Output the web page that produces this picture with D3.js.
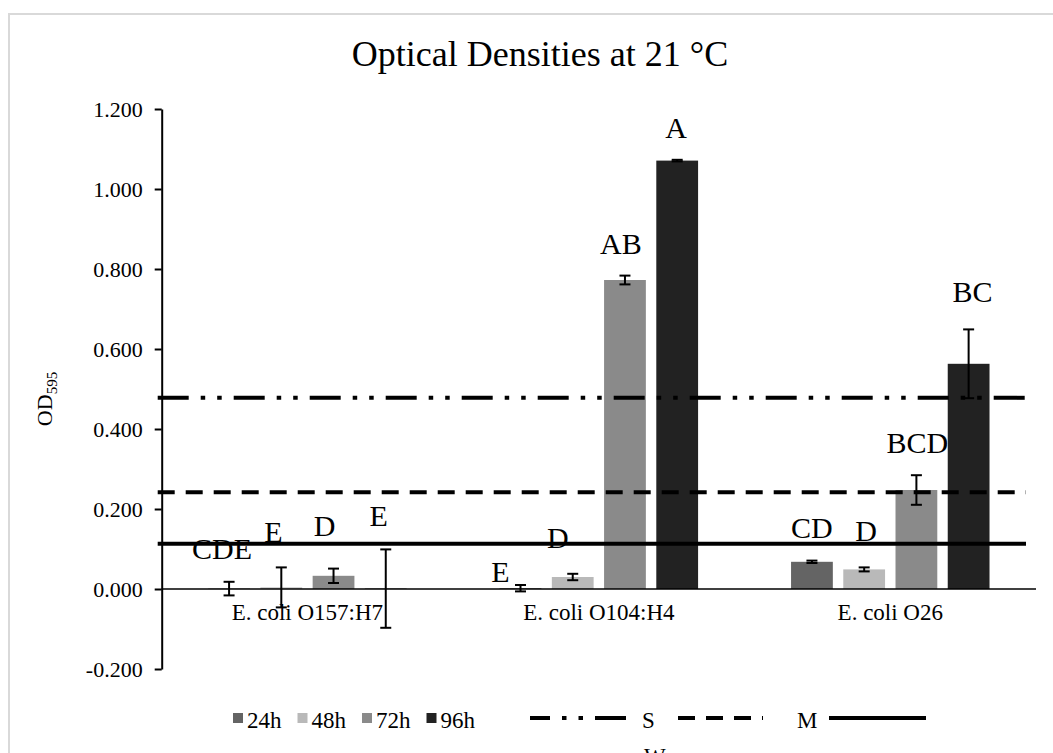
<!DOCTYPE html>
<html>
<head>
<meta charset="utf-8">
<script src="https://cdn.jsdelivr.net/npm/d3@7"></script>
<style>
  html, body { margin: 0; padding: 0; background: #fff; }
  svg { display: block; }
  text { font-family: "Liberation Serif", "Times New Roman", serif; fill: #000; }
</style>
</head>
<body>
<svg id="chart" width="1053" height="753" font-family="Liberation Serif, Times New Roman, serif"></svg>
<script>
// ---- data ----
const categories = ["E. coli O157:H7", "E. coli O104:H4", "E. coli O26"];
const seriesNames = ["24h", "48h", "72h", "96h"];
const seriesColors = ["#646464", "#b9b9b9", "#8a8a8a", "#222222"];

// OD595 means, one row per strain, one column per incubation time
const od24h = [0.001, 0.002, 0.068];
const od48h = [0.004, 0.030, 0.049];
const od72h = [0.033, 0.7725, 0.2475];
const od96h = [0.001, 1.071, 0.563];

// standard deviations
const sd24h = [0.017, 0.008, 0.003];
const sd48h = [0.050, 0.008, 0.005];
const sd72h = [0.018, 0.011, 0.037];
const sd96h = [0.098, 0.002, 0.086];

// significance letters
const let24h = ["CDE", "E", "CD"];
const let48h = ["E", "D", "D"];
const let72h = ["D", "AB", "BCD"];
const let96h = ["E", "A", "BC"];

// biofilm classification cut-offs
const cutoffNames = ["S", "M", "W"];
const cutoffValues = [0.478, 0.242, 0.113];

const yTicks = [-0.2, 0, 0.2, 0.4, 0.6, 0.8, 1.0, 1.2];

// hand placement of the letters, relative to the top of each error bar
const letterNudge24h = [[-7, 0], [-20, 20], [0, 0]];
const letterNudge48h = [[-8, -2], [-15, -3], [2, -3]];
const letterNudge72h = [[-9, -10], [-4, 1], [1, 1]];
const letterNudge96h = [[-7, 0], [-1, 1], [4, -4]];

// ---- layout ----
const svg = d3.select("#chart");
const plot = { left: 161.7, right: 1036, top: 109, bottom: 669 };

const means = [od24h, od48h, od72h, od96h];
const sds = [sd24h, sd48h, sd72h, sd96h];
const letters = [let24h, let48h, let72h, let96h];
const nudges = [letterNudge24h, letterNudge48h, letterNudge72h, letterNudge96h];

const rows = [];
categories.forEach((c, ci) => {
  seriesNames.forEach((s, si) => {
    rows.push({
      cat: c, series: s, si,
      value: means[si][ci], sd: sds[si][ci],
      letter: letters[si][ci], nudge: nudges[si][ci]
    });
  });
});

const x0 = d3.scaleBand().domain(categories).range([plot.left, plot.right]).paddingInner(0).paddingOuter(0);
const x1 = d3.scaleBand().domain(seriesNames).range([0, x0.bandwidth()]).paddingInner(0.2).paddingOuter(0.89);
const y = d3.scaleLinear().domain([-0.2, 1.2]).range([plot.bottom, plot.top]);
const color = d3.scaleOrdinal().domain(seriesNames).range(seriesColors);

// outer frame
svg.append("rect")
  .attr("x", 9).attr("y", 14).attr("width", 1100).attr("height", 800)
  .attr("fill", "none").attr("stroke", "#d9d9d9").attr("stroke-width", 2);

// title
svg.append("text")
  .attr("x", 540).attr("y", 66)
  .attr("text-anchor", "middle")
  .style("font-size", "36px")
  .text("Optical Densities at 21 °C");

// bars
const barX = d => x0(d.cat) + x1(d.series);
svg.append("g").selectAll("rect")
  .data(rows).join("rect")
  .attr("x", barX)
  .attr("width", x1.bandwidth())
  .attr("y", d => Math.min(y(d.value), y(0)))
  .attr("height", d => Math.abs(y(d.value) - y(0)))
  .attr("fill", d => color(d.series));

// cut-off lines
const cutoffDash = { S: "31 12 4.5 12 4.5 12", M: "17 11", W: null };
svg.append("g").selectAll("line")
  .data(cutoffNames).join("line")
  .attr("x1", plot.left - 4)
  .attr("x2", plot.right - 10)
  .attr("y1", (d, i) => y(cutoffValues[i]))
  .attr("y2", (d, i) => y(cutoffValues[i]))
  .attr("stroke", "#000")
  .attr("stroke-width", 4)
  .attr("stroke-dasharray", d => cutoffDash[d]);

// x axis line at zero
svg.append("line")
  .attr("x1", plot.left).attr("x2", plot.right)
  .attr("y1", y(0)).attr("y2", y(0))
  .attr("stroke", "#000").attr("stroke-width", 1.3);

// y axis
const yAxis = svg.append("g")
  .attr("transform", `translate(${plot.left},0)`)
  .call(d3.axisLeft(y).tickValues(yTicks).tickSize(7).tickSizeOuter(0).tickPadding(12)
    .tickFormat(d => (Math.abs(d) < 1e-9 ? 0 : d).toFixed(3)));
yAxis.attr("font-family", null);
yAxis.select(".domain").attr("stroke", "#000").attr("stroke-width", 2);
yAxis.selectAll(".tick line").attr("stroke", "#000").attr("stroke-width", 2);
yAxis.selectAll(".tick text")
  .style("font-family", '"Liberation Serif", "Times New Roman", serif')
  .style("font-size", "22px").attr("fill", "#000");

// y axis title
const yTitle = svg.append("text")
  .attr("transform", `translate(52,399) rotate(-90)`)
  .attr("text-anchor", "middle")
  .style("font-size", "22px");
yTitle.append("tspan").text("OD");
yTitle.append("tspan").attr("dy", 5).style("font-size", "15px").text("595");

// category labels
svg.append("g").selectAll("text")
  .data(categories).join("text")
  .attr("x", d => x0(d) + x0.bandwidth() / 2)
  .attr("y", y(0) + 31)
  .attr("text-anchor", "middle")
  .style("font-size", "23px")
  .text(d => d);

// error bars
const eb = svg.append("g").attr("stroke", "#000").attr("stroke-width", 2);
const cx = d => barX(d) + x1.bandwidth() / 2;
rows.forEach(d => {
  const yt = y(d.value + d.sd), yb = y(d.value - d.sd);
  eb.append("line").attr("x1", cx(d)).attr("x2", cx(d)).attr("y1", yt).attr("y2", yb);
  eb.append("line").attr("x1", cx(d) - 5.5).attr("x2", cx(d) + 5.5).attr("y1", yt).attr("y2", yt);
  eb.append("line").attr("x1", cx(d) - 5.5).attr("x2", cx(d) + 5.5).attr("y1", yb).attr("y2", yb);
});

// significance letters
svg.append("g").selectAll("text")
  .data(rows).join("text")
  .attr("x", d => cx(d) + d.nudge[0])
  .attr("y", d => y(d.value + d.sd) - 23 + d.nudge[1])
  .attr("text-anchor", "middle")
  .style("font-size", "30px")
  .text(d => d.letter);

// legend: series swatches
const leg = svg.append("g").attr("transform", "translate(233,0)");
let lx = 0;
seriesNames.forEach(s => {
  leg.append("rect").attr("x", lx).attr("y", 713).attr("width", 10).attr("height", 10).attr("fill", color(s));
  const t = leg.append("text").attr("x", lx + 14).attr("y", 728).style("font-size", "23px").text(s);
  lx += 14 + t.node().getComputedTextLength() + 16;
});

// legend: cut-off lines
const legLines = [
  { name: "S", x1: 530, x2: 627, tx: 642, ty: 728, offset: 11 },
  { name: "M", x1: 678, x2: 763, tx: 797, ty: 728, offset: 0 },
  { name: "W", x1: 829, x2: 926, tx: 644, ty: 764, offset: 0 }
];
legLines.forEach(l => {
  svg.append("line")
    .attr("x1", l.x1).attr("x2", l.x2).attr("y1", 718).attr("y2", 718)
    .attr("stroke", "#000").attr("stroke-width", 4)
    .attr("stroke-dasharray", cutoffDash[l.name])
    .attr("stroke-dashoffset", l.offset);
  svg.append("text").attr("x", l.tx).attr("y", l.ty).style("font-size", "23px").text(l.name);
});
</script>
</body>
</html>
